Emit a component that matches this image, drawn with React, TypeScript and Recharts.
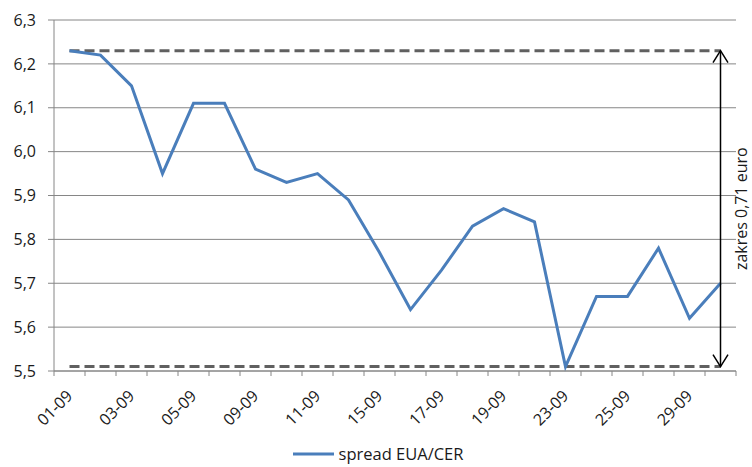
import { LineChart, Line, XAxis, YAxis, CartesianGrid, ReferenceLine, Legend } from 'recharts';

const DATES = [
  '01-09', '02-09', '03-09', '04-09', '05-09', '08-09', '09-09', '10-09', '11-09', '12-09', '15-09',
  '16-09', '17-09', '18-09', '19-09', '22-09', '23-09', '24-09', '25-09', '26-09', '29-09', '30-09',
];
const SPREAD = [
  6.23, 6.22, 6.15, 5.95, 6.11, 6.11, 5.96, 5.93, 5.95, 5.89, 5.77,
  5.64, 5.73, 5.83, 5.87, 5.84, 5.51, 5.67, 5.67, 5.78, 5.62, 5.70,
];
const Y_TICKS = [5.5, 5.6, 5.7, 5.8, 5.9, 6.0, 6.1, 6.2, 6.3];
const RANGE_MAX = 6.23;
const RANGE_MIN = 5.51;
const RANGE_LABEL = 'zakres 0,71 euro';
const SERIES_NAME = 'spread EUA/CER';

const W = 752;
const H = 467;
const LEFT = 54;
const RIGHT = 16;
const PLOT_W = W - LEFT - RIGHT;
const HALF = PLOT_W / DATES.length / 2;
const FONT = '"Open Sans", "Liberation Sans", sans-serif';
const BLUE = '#4a7ebb';
const AXIS = '#868686';

const data = DATES.map((date, i) => ({ date, spread: SPREAD[i] }));

const DateTick = ({ x, y, payload, index }: any) => {
  const last = index === DATES.length - 1;
  return (
    <g>
      <line x1={x - HALF} x2={x - HALF} y1={y} y2={y + 5} stroke={AXIS} />
      {last && <line x1={x + HALF} x2={x + HALF} y1={y} y2={y + 5} stroke={AXIS} />}
      {index % 2 === 0 && (
        <text
          x={x + 4}
          y={y + 26}
          textAnchor="end"
          fontSize={16}
          fill="#1a1a1a"
          fontFamily={FONT}
          transform={`rotate(-45, ${x + 4}, ${y + 26})`}
        >
          {payload.value}
        </text>
      )}
    </g>
  );
};

const RangeArrow = (props: any) => {
  const { x1, y1, y2 } = props;
  const top = Math.min(y1, y2);
  const bottom = Math.max(y1, y2);
  const mid = (top + bottom) / 2;
  return (
    <g>
      <line x1={x1} x2={x1} y1={top} y2={bottom} stroke="#000" strokeWidth={1.5} />
      <path d={`M${x1 - 7.5},${top + 12} L${x1},${top} L${x1 + 7.5},${top + 12}`} fill="none" stroke="#000" strokeWidth={1.5} />
      <path d={`M${x1 - 7.5},${bottom - 12} L${x1},${bottom} L${x1 + 7.5},${bottom - 12}`} fill="none" stroke="#000" strokeWidth={1.5} />
      <text
        x={x1 + 21}
        y={mid}
        textAnchor="middle"
        dominantBaseline="central"
        fontSize={16}
        fontFamily={FONT}
        fill="#1a1a1a"
        transform={`rotate(-90, ${x1 + 21}, ${mid})`}
      >
        {RANGE_LABEL}
      </text>
    </g>
  );
};

const LegendContent = () => (
  <div
    style={{
      display: 'flex',
      justifyContent: 'center',
      alignItems: 'center',
      height: 26,
      boxSizing: 'border-box',
      paddingLeft: 20,
      fontFamily: FONT,
      fontSize: 16.5,
      lineHeight: '22px',
      color: '#1a1a1a',
    }}
  >
    <svg width={46} height={10}>
      <line x1={0} x2={41} y1={5} y2={5} stroke={BLUE} strokeWidth={3} />
    </svg>
    <span>{SERIES_NAME}</span>
  </div>
);

export default function App() {
  return (
    <div style={{ width: W, height: H, background: '#fff' }}>
      <style>{'body{margin:0}'}</style>
      <LineChart width={W} height={H} data={data} margin={{ top: 20, right: RIGHT, left: 0, bottom: 0 }}>
        <CartesianGrid vertical={false} stroke={AXIS} strokeWidth={1} />
        <XAxis
          dataKey="date"
          interval={0}
          padding={{ left: HALF, right: HALF }}
          tick={<DateTick />}
          tickLine={false}
          tickSize={0}
          tickMargin={0}
          height={70}
          axisLine={{ stroke: AXIS }}
        />
        <YAxis
          domain={[5.5, 6.3]}
          ticks={Y_TICKS}
          width={LEFT}
          tickSize={6}
          tickMargin={12}
          tickLine={{ stroke: AXIS }}
          axisLine={{ stroke: AXIS }}
          tickFormatter={(v: number) => v.toFixed(1).replace('.', ',')}
          tick={{ fill: '#1a1a1a', fontSize: 16, fontFamily: FONT }}
        />
        <ReferenceLine
          segment={[{ x: DATES[0], y: RANGE_MAX }, { x: DATES[DATES.length - 1], y: RANGE_MAX }]}
          stroke="#606060"
          strokeWidth={3}
          strokeDasharray="10 5"
        />
        <ReferenceLine
          segment={[{ x: DATES[0], y: RANGE_MIN }, { x: DATES[DATES.length - 1], y: RANGE_MIN }]}
          stroke="#606060"
          strokeWidth={3}
          strokeDasharray="10 5"
        />
        <Line
          type="linear"
          dataKey="spread"
          name={SERIES_NAME}
          stroke={BLUE}
          strokeWidth={3}
          dot={false}
          isAnimationActive={false}
        />
        <ReferenceLine
          segment={[{ x: DATES[DATES.length - 1], y: RANGE_MAX }, { x: DATES[DATES.length - 1], y: RANGE_MIN }]}
          shape={<RangeArrow />}
        />
        <Legend verticalAlign="bottom" height={26} content={<LegendContent />} />
      </LineChart>
    </div>
  );
}
